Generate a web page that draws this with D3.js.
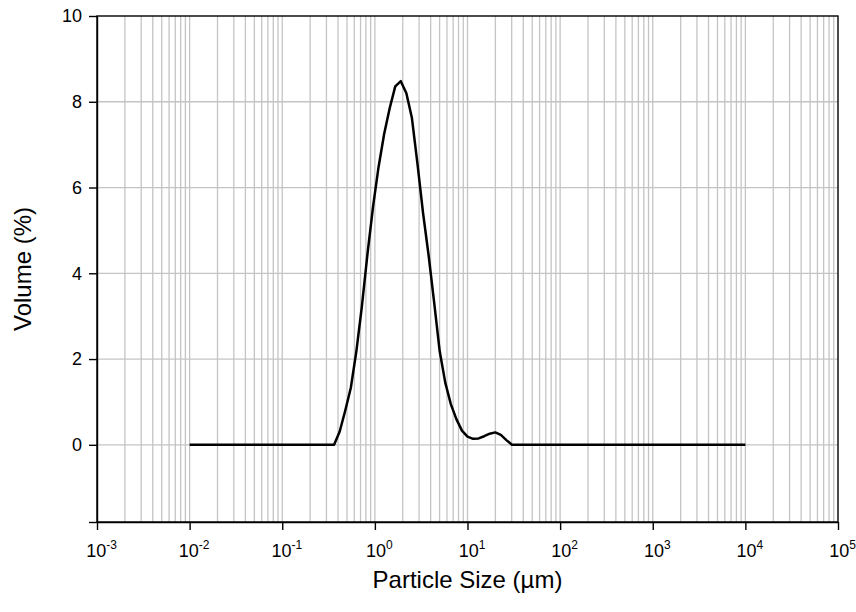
<!DOCTYPE html>
<html>
<head>
<meta charset="utf-8">
<script src="https://cdn.jsdelivr.net/npm/d3@7"></script>
<style>
  body { margin: 0; background: #fff; }
  svg { font-family: "Liberation Sans", Arial, sans-serif; }
</style>
</head>
<body>
<div id="chart"></div>
<script>
// particle size (um) and volume (%)
var sizes = [0.01, 0.363, 0.417, 0.479, 0.550, 0.631, 0.724, 0.832, 0.955, 1.096, 1.259,
  1.445, 1.660, 1.905, 2.188, 2.512, 2.884, 3.311, 3.802, 4.365, 5.012, 5.754,
  6.607, 7.586, 8.710, 10.0, 11.48, 13.18, 15.14, 17.38, 19.95, 22.91, 26.30, 30.20, 10000];
var volumes = [0, 0, 0.31, 0.80, 1.33, 2.18, 3.23, 4.45, 5.55, 6.48, 7.25,
  7.85, 8.36, 8.48, 8.20, 7.62, 6.55, 5.41, 4.42, 3.32, 2.18, 1.45,
  0.95, 0.60, 0.33, 0.19, 0.14, 0.15, 0.20, 0.26, 0.29, 0.23, 0.11, 0, 0];

var xTicks = [-3, -2, -1, 0, 1, 2, 3, 4, 5];   // decade exponents
var yTicks = [0, 2, 4, 6, 8, 10];

var width = 856;
var height = 612;

var paddingLeft = 97;
var paddingRight = 18;
var paddingTop = 16;
var paddingBottom = 90;

var plotWidth = width - paddingLeft - paddingRight;
var plotHeight = height - paddingTop - paddingBottom;

var data = sizes.map(function (s, i) { return { size: s, vol: volumes[i] }; });

var svg = d3.select("#chart").append("svg")
  .attr("width", width)
  .attr("height", height);

var x = d3.scaleLog()
  .domain([1e-3, 1e5])
  .range([0, plotWidth]);

var y = d3.scaleLinear()
  .domain([-1.8, 10])
  .range([plotHeight, 0]);

var g = svg.append("g")
  .attr("transform", "translate(" + paddingLeft + ", " + paddingTop + ")");

// Grid lines
g.append("g")
  .selectAll("line")
  .data(x.ticks().filter(function (d) { return d > 1e-3 && d < 1e5; }))
  .join("line")
  .attr("x1", function (d) { return x(d); })
  .attr("x2", function (d) { return x(d); })
  .attr("y1", 0)
  .attr("y2", plotHeight)
  .style("stroke", "#c4c4c4")
  .style("stroke-width", 1.3);

g.append("g")
  .selectAll("line")
  .data(yTicks.filter(function (d) { return d < 10; }))
  .join("line")
  .attr("x1", 0)
  .attr("x2", plotWidth)
  .attr("y1", function (d) { return y(d); })
  .attr("y2", function (d) { return y(d); })
  .style("stroke", "#c4c4c4")
  .style("stroke-width", 1.3);

// Frame
g.append("rect")
  .attr("width", plotWidth)
  .attr("height", plotHeight)
  .style("fill", "none")
  .style("stroke", "#000")
  .style("stroke-width", 1.4);

// Axes
var xAxis = d3.axisBottom(x)
  .tickValues(xTicks.map(function (e) { return Math.pow(10, e); }))
  .tickFormat("")
  .tickSize(8)
  .tickSizeOuter(0);

var xg = g.append("g")
  .attr("transform", "translate(0, " + plotHeight + ")")
  .call(xAxis);
xg.select(".domain").style("stroke-width", 1.4);
xg.selectAll(".tick line").style("stroke-width", 1.4);

var xLabel = xg.selectAll(".tick")
  .append("text")
  .attr("y", 35)
  .attr("x", 4)
  .attr("fill", "#000")
  .style("font-size", "18px")
  .attr("text-anchor", "middle");
xLabel.append("tspan").text("10");
xLabel.append("tspan")
  .attr("dy", -8)
  .style("font-size", "12px")
  .text(function (d) { return Math.round(Math.log10(d)); });

var yAxis = d3.axisLeft(y)
  .tickValues(yTicks.concat([-1.8]))
  .tickFormat(function (d) { return d < 0 ? "" : d; })
  .tickSize(8)
  .tickSizeOuter(0)
  .tickPadding(7);

var yg = g.append("g").call(yAxis);
yg.select(".domain").style("stroke-width", 1.4);
yg.selectAll(".tick line").style("stroke-width", 1.4);
yg.selectAll(".tick text")
  .attr("fill", "#000")
  .style("font-size", "18px");

// Curve
var line = d3.line()
  .x(function (d) { return x(d.size); })
  .y(function (d) { return y(d.vol); });

g.append("path")
  .datum(data)
  .attr("d", line)
  .style("fill", "none")
  .style("stroke", "#000")
  .style("stroke-width", 2.5)
  .style("stroke-linejoin", "round");

// Axis titles
svg.append("text")
  .attr("x", paddingLeft + plotWidth / 2)
  .attr("y", 588)
  .attr("text-anchor", "middle")
  .style("font-size", "24px")
  .text("Particle Size (\u00b5m)");

svg.append("text")
  .attr("transform", "translate(31, " + (paddingTop + plotHeight / 2) + ") rotate(-90)")
  .attr("text-anchor", "middle")
  .style("font-size", "24px")
  .text("Volume (%)");
</script>
</body>
</html>
